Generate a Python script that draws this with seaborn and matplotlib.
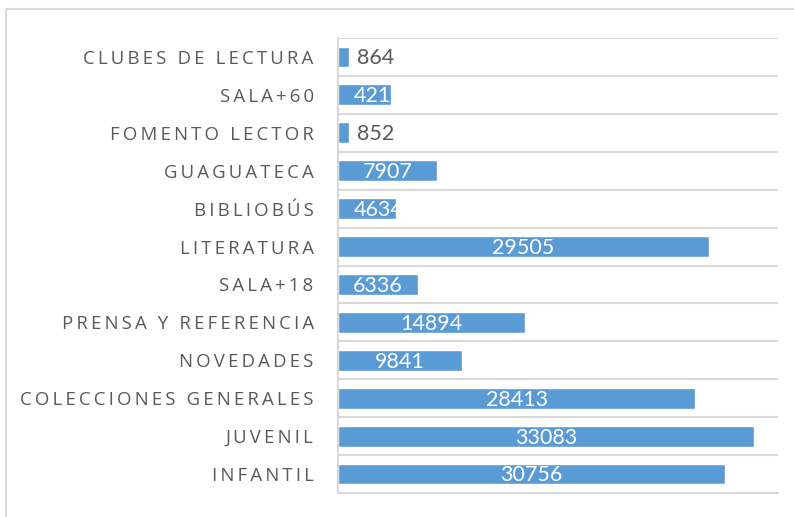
import numpy as np
import pandas as pd
import matplotlib
matplotlib.use("Agg")
import matplotlib.pyplot as plt
import seaborn as sns

categorias = ["CLUBES DE LECTURA", "SALA+60", "FOMENTO LECTOR", "GUAGUATECA",
              "BIBLIOBÚS", "LITERATURA", "SALA+18", "PRENSA Y REFERENCIA",
              "NOVEDADES", "COLECCIONES GENERALES", "JUVENIL", "INFANTIL"]
valores = [864, 4213, 852, 7907, 4634, 29505, 6336, 14894, 9841, 28413, 33083, 30756]

azul = "#5B9BD5"
gris = "#595959"
linea = "#D9D9D9"

sns.set_style("white")
plt.rcParams['font.family'] = ['Lato', 'DejaVu Sans']

df = pd.DataFrame({"cat": categorias, "val": valores})

fig = plt.figure(figsize=(7.94, 5.17), dpi=100)
# marco exterior del grafico (cortado a la derecha y abajo)
fig.patches.append(plt.Rectangle((6 / 794, -0.1), 1.2, (517 - 9) / 517 + 0.1,
                                 transform=fig.transFigure, fill=False,
                                 edgecolor=linea, lw=1.5))
ax = fig.add_axes([338 / 794, 24 / 517, 440 / 794, 455 / 517])

sns.barplot(data=df, x="val", y="cat", orient="h", color=azul, width=0.55,
            saturation=1, ax=ax)

ax.set_xlim(0, 35000)
ax.set_ylim(len(categorias) - 0.5, -0.5)
ax.set_xticks([])
ax.set_xlabel("")
ax.set_ylabel("")
espaciado = "\u2009"
ax.set_yticks(range(len(categorias)))
ax.set_yticklabels([espaciado.join(c) for c in categorias], fontsize=13.4, color=gris,
                   family=['Open Sans', 'DejaVu Sans'])
ax.tick_params(axis="y", length=0, pad=17.5)
ax.set_yticks(np.arange(len(categorias) + 1) - 0.5, minor=True)
ax.tick_params(axis="y", which="minor", length=0)
ax.grid(True, axis="y", which="minor", color=linea, lw=1.5)
ax.set_axisbelow(True)
for s in ["top", "right"]:
    ax.spines[s].set_visible(False)
ax.spines["left"].set_color(linea)
ax.spines["bottom"].set_color(linea)
ax.spines["left"].set_linewidth(1.5)
ax.spines["bottom"].set_linewidth(1.5)

for barra, v in zip(ax.patches, valores):
    yc = barra.get_y() + barra.get_height() / 2
    if v < 2000:
        ax.annotate(str(v), (barra.get_width(), yc), xytext=(6, -1),
                    textcoords="offset points", ha="left", va="center",
                    fontsize=15.5, color=gris)
    elif v < 6000:
        t = ax.annotate(str(v), (0, yc), xytext=(11, -1),
                        textcoords="offset points", ha="left", va="center",
                        fontsize=15.5, color="white")
        t.set_clip_path(barra)
    else:
        ax.annotate(str(v), (barra.get_width() / 2, yc), xytext=(0, -1),
                    textcoords="offset points", ha="center", va="center",
                    fontsize=15.5, color="white")

fig.savefig("out.png", dpi=100)
